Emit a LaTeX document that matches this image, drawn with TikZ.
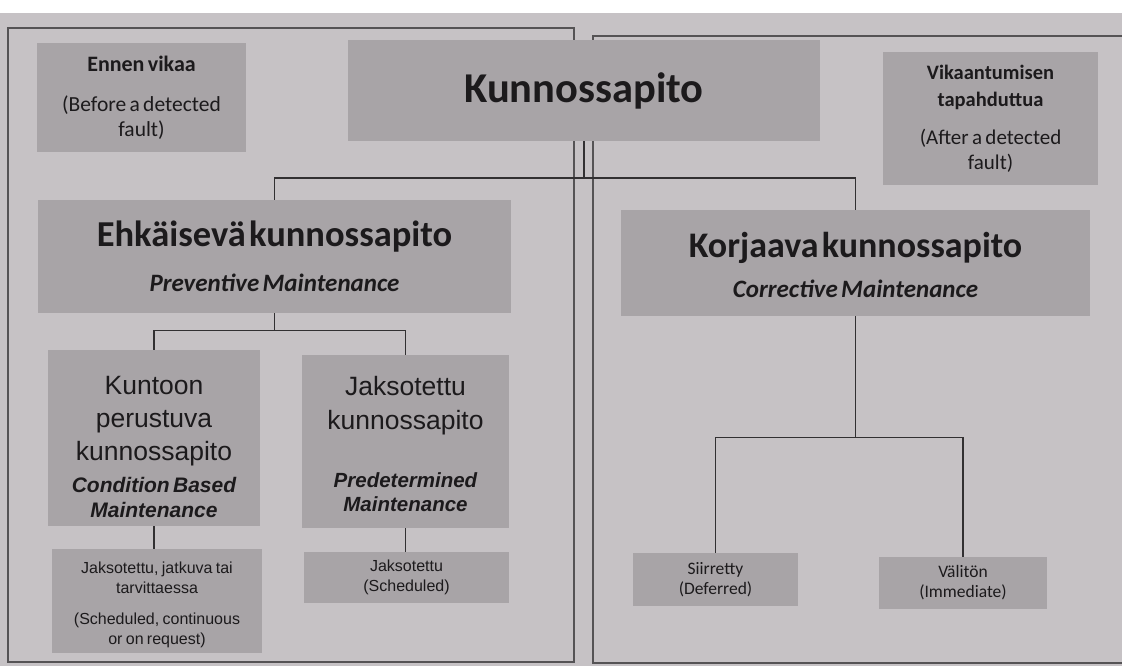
\documentclass[tikz,border=0pt]{standalone}
\usepackage{fontspec}
\setmainfont{Carlito}
\newfontfamily\arialf{Liberation Sans}
\definecolor{bgc}{RGB}{198,194,197}
\definecolor{boxc}{RGB}{168,164,167}
\definecolor{inkc}{RGB}{28,26,28}
\definecolor{linec}{RGB}{50,48,50}
\definecolor{framec}{RGB}{85,83,85}
\tikzset{
  box/.style={fill=boxc, inner sep=0pt, align=center, text=inkc, anchor=center},
  conn/.style={draw=linec, line width=1.3pt},
  framel/.style={draw=framec, line width=1.4pt},
}
\newcommand{\fs}[2]{\fontsize{#1}{#2}\selectfont}
\begin{document}
\begin{tikzpicture}[x=1pt,y=-1pt]
\useasboundingbox (0,0) rectangle (1122,666);
\fill[bgc] (0,0) rectangle (1122,666);
\fill[white] (0,0) rectangle (1122,13);
% frames
\draw[framel] (8,28) rectangle (574,662);
\draw[framel] (1130,36) -- (593,36) -- (593,663) -- (1130,663);
% boxes
\node[box, minimum width=209pt, minimum height=109pt, text width=209pt] (ennen) at (141.5,97.5)
  {{\fs{22}{25}\bfseries Ennen vikaa\par}\vspace{15pt}{\fs{21.5}{25}(Before a detected\\fault)\par}};
\node[box, minimum width=472pt, minimum height=101pt] (kp) at (584,90.5)
  {\fs{42.5}{48}\bfseries Kunnossapito};
\node[box, minimum width=215pt, minimum height=133pt, text width=215pt] (vika) at (990.5,118.5)
  {{\fs{20.5}{27}\bfseries Vikaantumisen\\tapahduttua\par}\vspace{13pt}{\fs{21}{25}(After a detected\\fault)\par}};
\node[box, minimum width=473pt, minimum height=113pt, text width=473pt] (ehk) at (274.5,256.5)
  {{\fs{36.5}{44}\bfseries Ehkäisevä kunnossapito\par}\vspace{15pt}{\fs{25}{30}\bfseries\itshape Preventive Maintenance\par}};
\node[box, minimum width=469pt, minimum height=106pt, text width=469pt] (korj) at (855.5,263)
  {{\fs{36}{44}\bfseries Korjaava kunnossapito\par}\vspace{10pt}{\fs{25}{30}\bfseries\itshape Corrective Maintenance\par}\vspace{-4pt}};
\node[box, minimum width=212pt, minimum height=176pt, text width=212pt, font=\arialf] (kunt) at (154,438)
  {{\fs{26.5}{33}Kuntoon\\perustuva\\kunnossapito\par}\vspace{7pt}{\fs{21}{25}\bfseries\itshape Condition Based\\Maintenance\par}\vspace{-18pt}};
\node[box, minimum width=207pt, minimum height=173pt, text width=207pt, font=\arialf] (jaks) at (405.5,441.5)
  {{\fs{26.5}{34}Jaksotettu\\kunnossapito\par}\vspace{34pt}{\fs{20.5}{24}\bfseries\itshape Predetermined\\Maintenance\par}\vspace{-5pt}};
\node[box, minimum width=210pt, minimum height=104pt, text width=210pt, font=\arialf] (jatk) at (157,601)
  {{\fs{16}{20}Jaksotettu, jatkuva tai\\tarvittaessa\par}\vspace{11pt}{\fs{16}{20}(Scheduled, continuous\\or on request)\par}\vspace{-8pt}};
\node[box, minimum width=205pt, minimum height=51pt, text width=205pt, font=\arialf] (sched) at (406.5,577.5)
  {\fs{16}{20}Jaksotettu\\(Scheduled)\par};
\node[box, minimum width=165pt, minimum height=53pt, text width=165pt] (siirr) at (715.5,579.5)
  {\fs{17.5}{20}Siirretty\\(Deferred)\par};
\node[box, minimum width=168pt, minimum height=52pt, text width=168pt] (valit) at (963,583)
  {\fs{17.5}{20}Välitön\\(Immediate)\par};
% connectors
\coordinate (j1) at (584,178);
\draw[conn] (kp.south) -- (j1);
\draw[conn] (ehk.north) |- (j1) -| (korj.north);
\path (ehk.south) ++(0,17) coordinate (j2);
\draw[conn] (ehk.south) -- (j2);
\draw[conn] (kunt.north) |- (j2) -| (jaks.north);
\draw[conn] (kunt.south) -- (kunt.south |- jatk.north);
\draw[conn] (jaks.south) -- (jaks.south |- sched.north);
\path (korj.south) ++(0,121) coordinate (j3);
\draw[conn] (korj.south) -- (j3);
\draw[conn] (siirr.north) |- (j3) -| (valit.north);
\end{tikzpicture}
\end{document}
